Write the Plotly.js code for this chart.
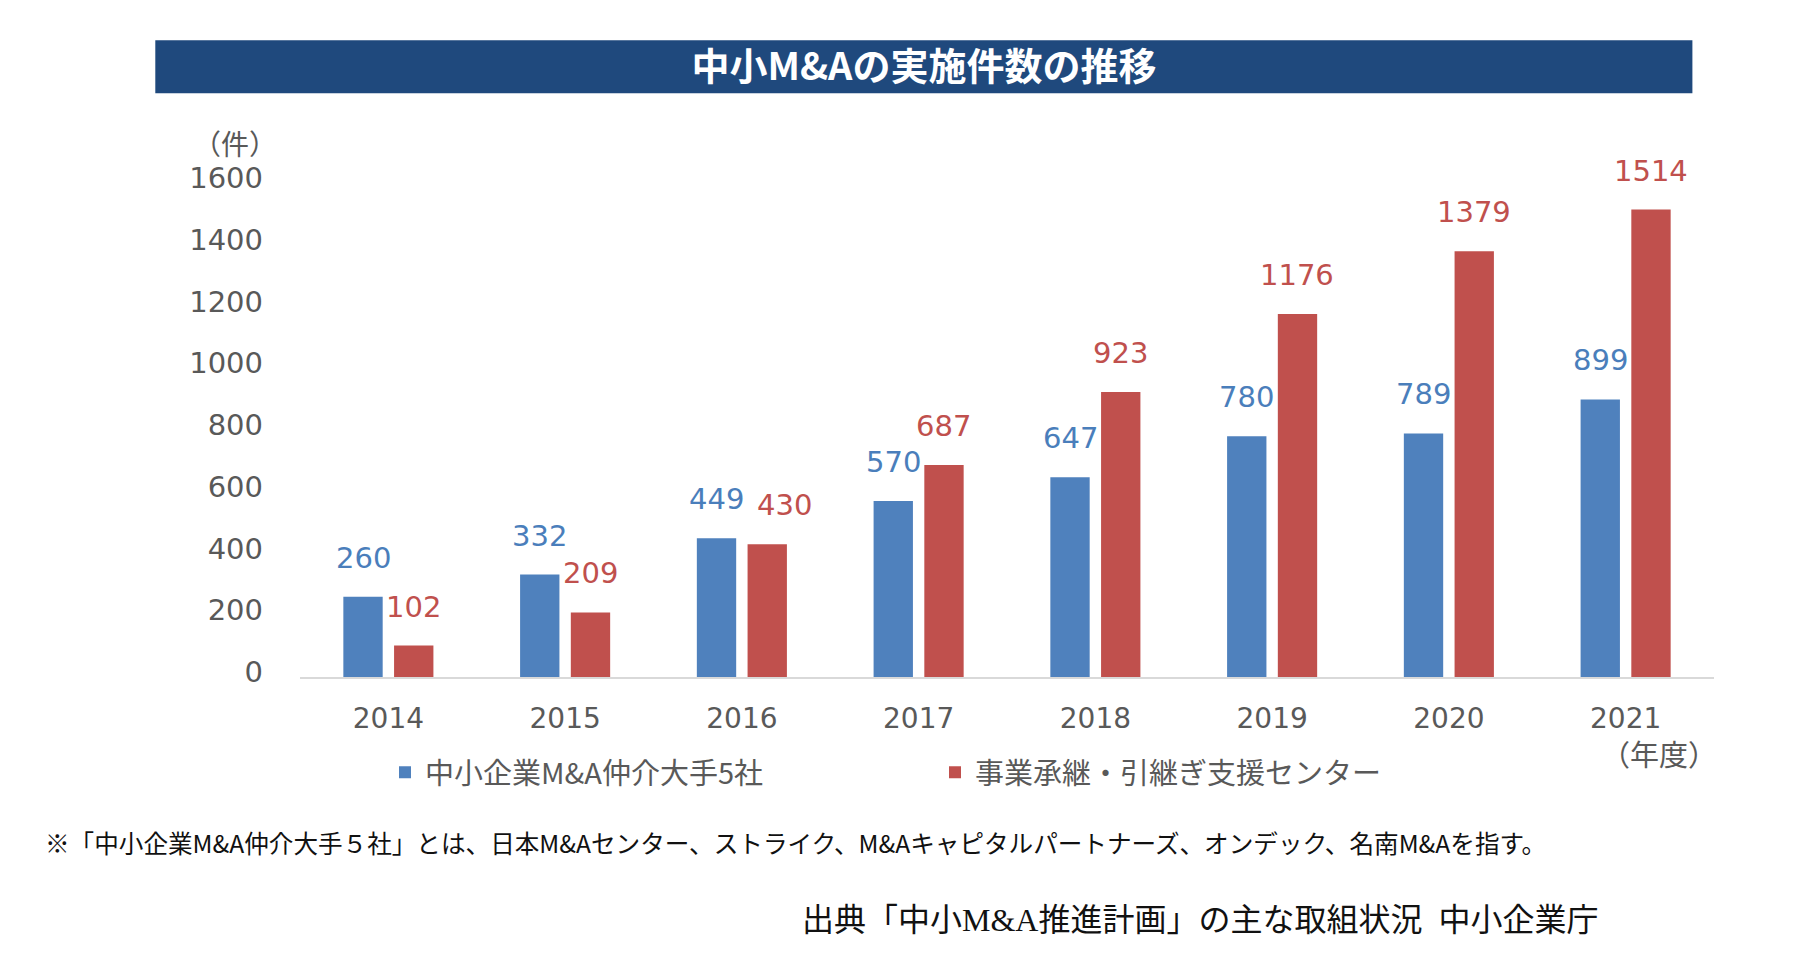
<!DOCTYPE html>
<html>
<head>
<meta charset="utf-8">
<script src="https://cdn.plot.ly/plotly-3.0.1.min.js"></script>
<style>
  html, body { margin: 0; padding: 0; background: #ffffff; }
  #chart { width: 1804px; height: 965px; }
</style>
</head>
<body>
<div id="chart"></div>
<script>
// ---- data ----
const years = ['2014', '2015', '2016', '2017', '2018', '2019', '2020', '2021'];
const brokerTop5 = [260, 332, 449, 570, 647, 780, 789, 899];
const supportCenter = [102, 209, 430, 687, 923, 1176, 1379, 1514];
const seriesNames = ['中小企業M&A仲介大手5社', '事業承継・引継ぎ支援センター'];
const yTicks = [0, 200, 400, 600, 800, 1000, 1200, 1400, 1600];
const chartTitle = '中小M&Aの実施件数の推移';
const yUnit = '（件）';
const xUnit = '（年度）';
const footnote = '※「中小企業M&A仲介大手５社」とは、日本M&Aセンター、ストライク、M&Aキャピタルパートナーズ、オンデック、名南M&Aを指す。';
const source = '出典「中小M&A推進計画」の主な取組状況  中小企業庁';

// ---- layout geometry (pixels) ----
const W = 1804, H = 965;
const L = 300, R = 1714, T = 183, B = 676.7;
const px2x = p => (p - L) / (R - L);
const px2y = p => (B - p) / (B - T);

const BLUE = '#4F81BD', RED = '#C0504D';
const BLUE_TXT = '#4A7EBB', RED_TXT = '#C0504D';
const GRAY = '#595959';
const NUMFONT = 'DejaVu Sans, Verdana, sans-serif';
const JPFONT = 'Noto Sans CJK JP, sans-serif';

const barW = 0.2226, half = 0.1435;

const traces = [
  {
    type: 'bar', x: years, y: brokerTop5, name: seriesNames[0],
    marker: { color: BLUE }, width: barW, offset: -half - barW / 2,
    hoverinfo: 'x+y'
  },
  {
    type: 'bar', x: years, y: supportCenter, name: seriesNames[1],
    marker: { color: RED }, width: barW, offset: half - barW / 2,
    hoverinfo: 'x+y'
  }
];

const annotations = [];
years.forEach((yr, i) => {
  annotations.push({
    x: i - half, y: brokerTop5[i], xref: 'x', yref: 'y',
    text: String(brokerTop5[i]), showarrow: false,
    xanchor: 'center', yanchor: 'middle', yshift: 39,
    font: { family: NUMFONT, size: 29, color: BLUE_TXT }
  });
  const close = Math.abs(supportCenter[i] - brokerTop5[i]) < 40;
  annotations.push({
    x: i + half, y: supportCenter[i], xref: 'x', yref: 'y',
    text: String(supportCenter[i]), showarrow: false,
    xanchor: 'center', yanchor: 'middle', yshift: 39, xshift: close ? 17 : 0,
    font: { family: NUMFONT, size: 29, color: RED_TXT }
  });
});

annotations.push({
  xref: 'paper', yref: 'paper', x: px2x(279), y: px2y(143),
  xanchor: 'right', yanchor: 'middle', showarrow: false, text: yUnit,
  font: { family: JPFONT, size: 28, color: GRAY }
});
annotations.push({
  xref: 'paper', yref: 'paper', x: px2x(1659), y: px2y(753),
  xanchor: 'center', yanchor: 'middle', showarrow: false, text: xUnit,
  font: { family: JPFONT, size: 29, color: GRAY }
});
annotations.push({
  xref: 'paper', yref: 'paper', x: px2x(43), y: px2y(841.7),
  xanchor: 'left', yanchor: 'middle', showarrow: false, text: footnote,
  font: { family: JPFONT, size: 24.6, color: '#111111' }
});
annotations.push({
  xref: 'paper', yref: 'paper', x: px2x(800), y: px2y(920),
  xanchor: 'left', yanchor: 'middle', showarrow: false, text: source,
  font: { family: 'Liberation Serif, Noto Sans CJK JP, serif', size: 32, color: '#111111' }
});

const layout = {
  width: W, height: H,
  margin: { l: L, r: W - R, t: T, b: H - B, pad: 0 },
  paper_bgcolor: '#ffffff', plot_bgcolor: '#ffffff',
  title: {
    text: chartTitle, xref: 'container', yref: 'container',
    x: 924 / W, y: 1 - 66.7 / H, xanchor: 'center', yanchor: 'middle',
    font: { family: JPFONT, size: 38, color: '#ffffff', weight: 'bold' }
  },
  shapes: [{
    type: 'rect', xref: 'paper', yref: 'paper', layer: 'below',
    x0: px2x(155.3), x1: px2x(1692.4), y0: px2y(93.2), y1: px2y(40.3),
    fillcolor: '#1F497D', line: { width: 0 }
  }],
  xaxis: {
    type: 'category', range: [-0.5, 7.5],
    showline: true, linecolor: '#D9D9D9', linewidth: 2,
    showgrid: false, zeroline: false, ticks: '',
    tickfont: { family: NUMFONT, size: 28, color: GRAY },
    ticklabelstandoff: 15, fixedrange: true
  },
  yaxis: {
    range: [0, 1600], tickvals: yTicks, ticktext: yTicks.map(String),
    showline: false, showgrid: false, zeroline: false, ticks: '',
    tickfont: { family: NUMFONT, size: 29, color: GRAY },
    ticklabelstandoff: 36, ticklabelshift: -5, fixedrange: true
  },
  barmode: 'group',
  showlegend: true,
  legend: {
    orientation: 'h', x: px2x(385), y: px2y(772), xanchor: 'left', yanchor: 'middle',
    font: { family: JPFONT, size: 29, color: GRAY },
    entrywidth: 505, entrywidthmode: 'pixels', bgcolor: 'rgba(0,0,0,0)',
    traceorder: 'normal'
  },
  annotations: annotations
};

Plotly.newPlot('chart', traces, layout, { displayModeBar: false, staticPlot: true });
</script>
</body>
</html>
